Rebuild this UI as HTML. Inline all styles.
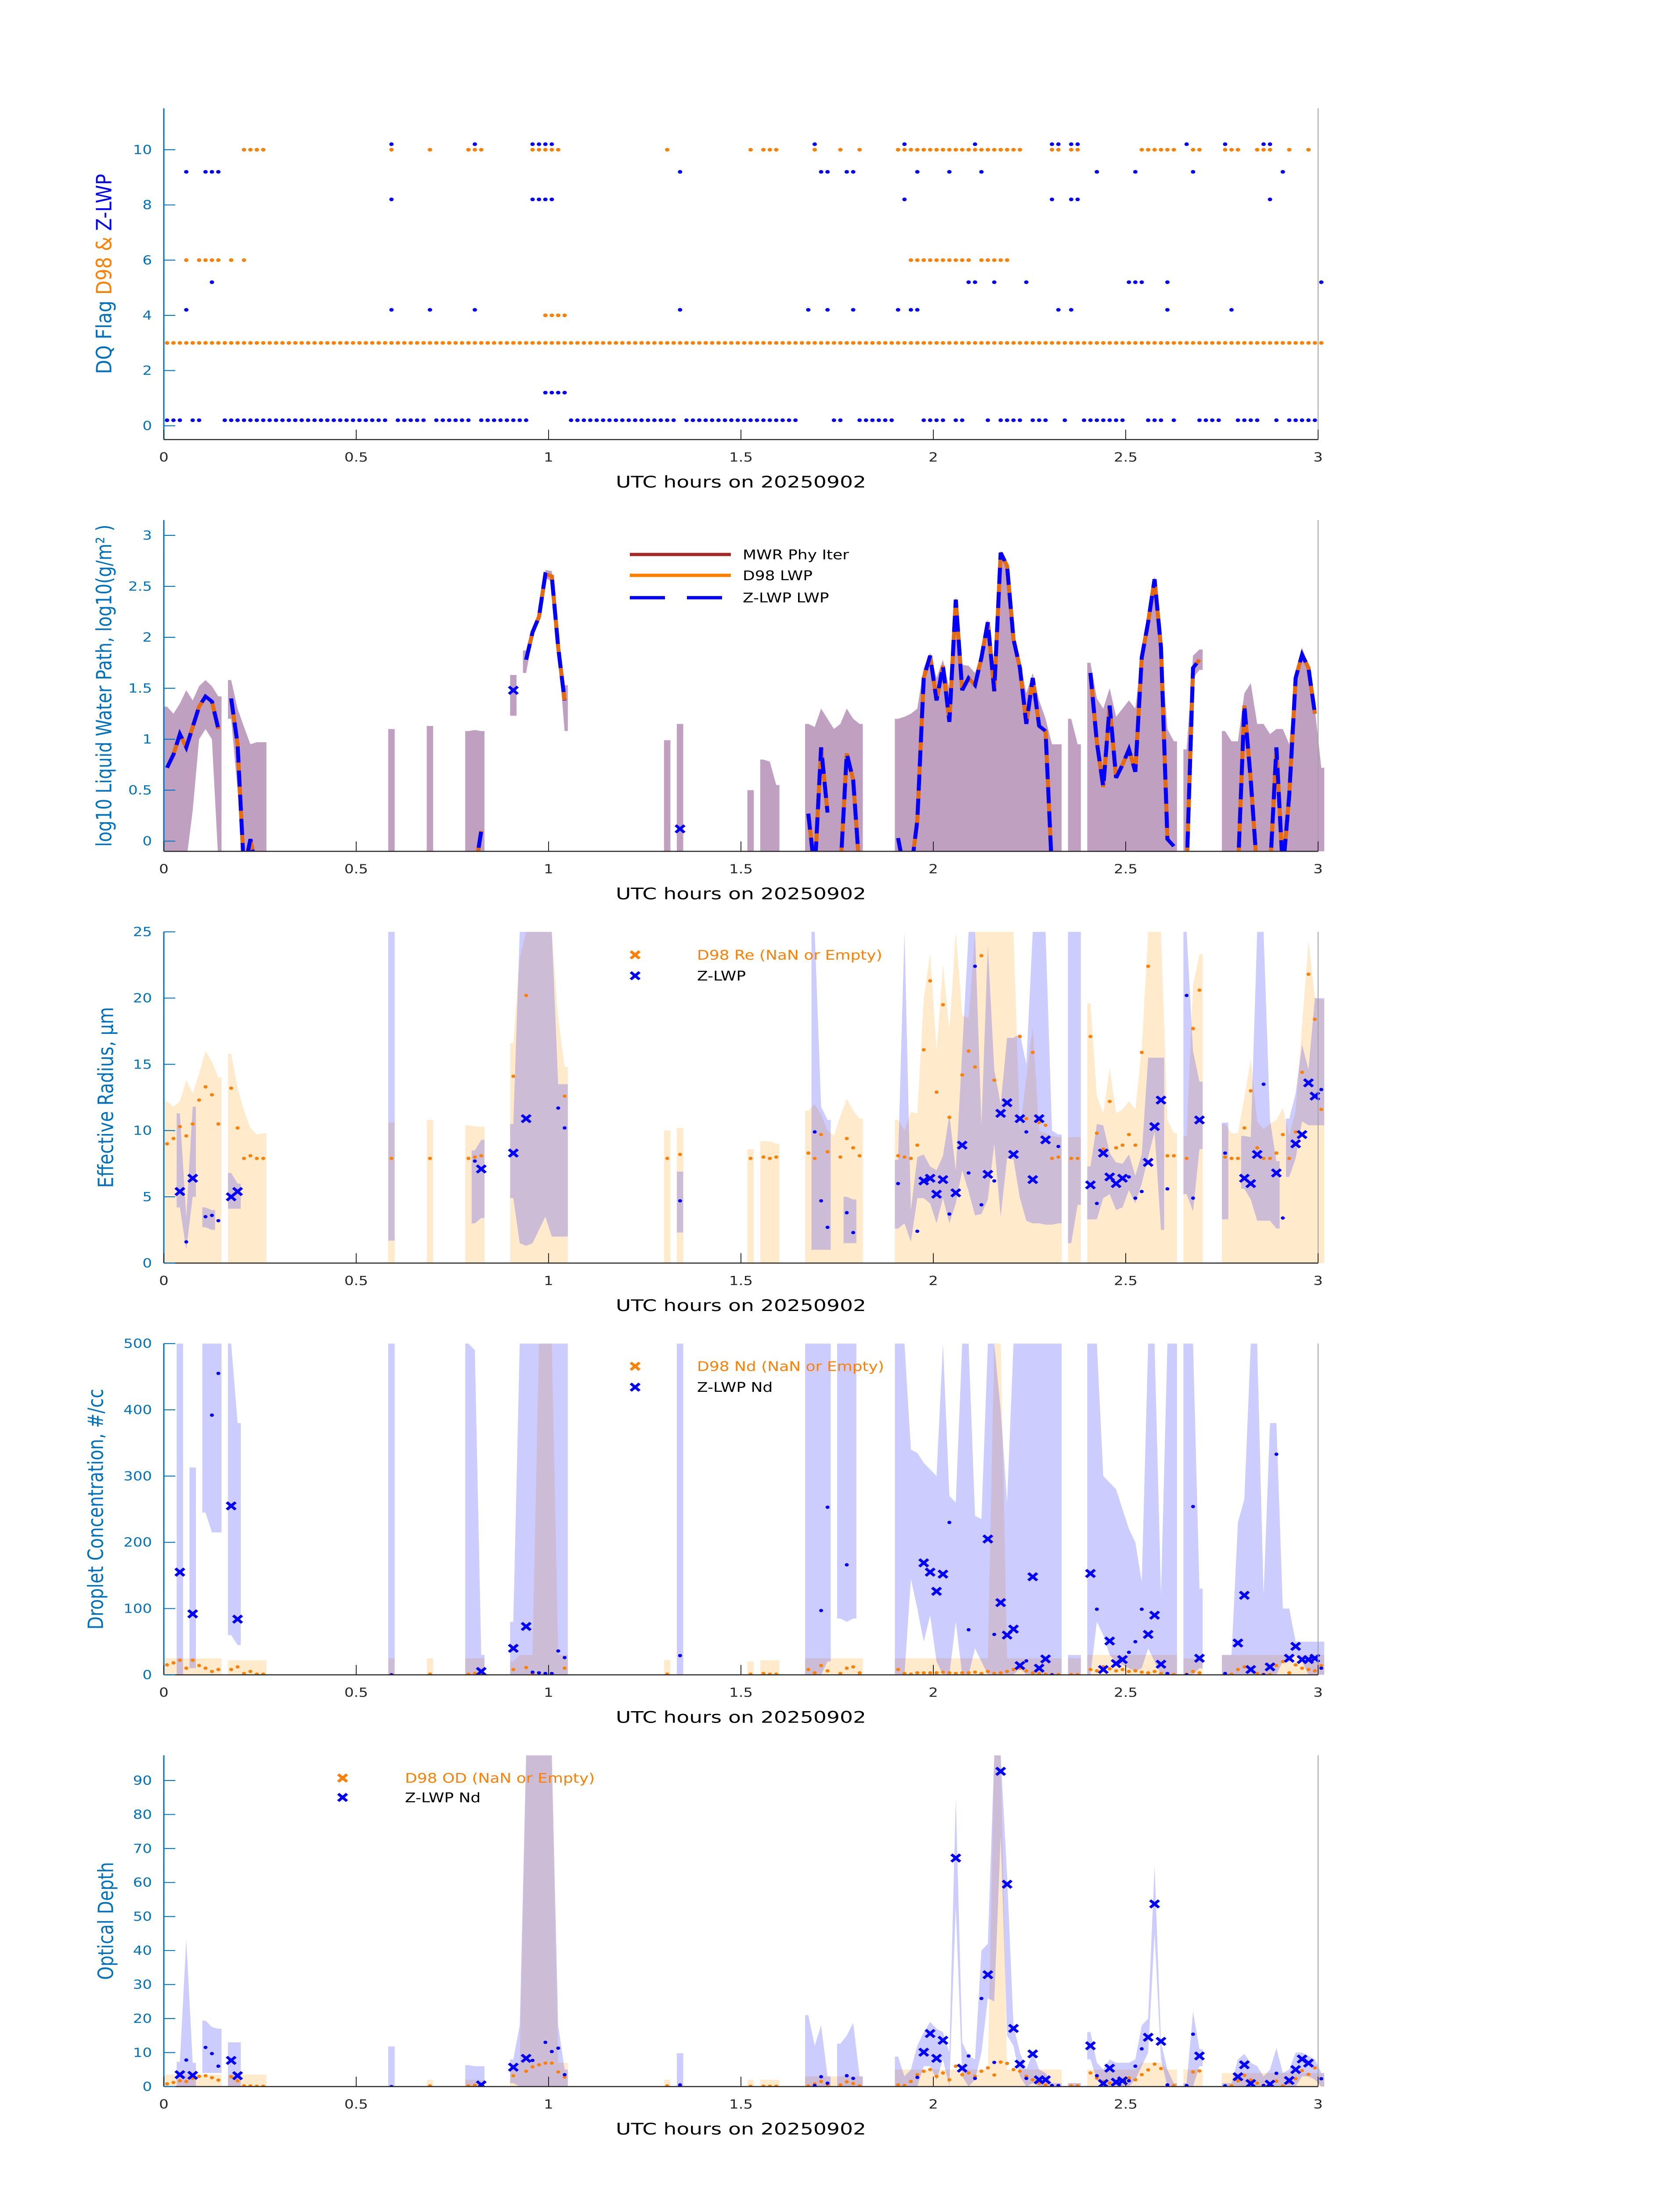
<!DOCTYPE html>
<html><head><meta charset="utf-8"><title>DQ flags and cloud retrievals</title>
<style>
html,body{margin:0;padding:0;background:#fff;width:100%;height:100%;overflow:hidden;}
svg{display:block;position:absolute;left:0;top:0;width:100vw;height:100vh;font-family:"DejaVu Sans","Liberation Sans",sans-serif;}
</style></head>
<body>
<svg id="chart" xmlns="http://www.w3.org/2000/svg" viewBox="0 0 3825 6000" preserveAspectRatio="none">
<rect x="0" y="0" width="3825" height="6000" fill="#fff"/>
</svg>
<script>
// ---------- shared time axis (minute index since 00 UTC) ----------
const N = null;
const timeIdx = [
 0,1,2,3,4,5,6,7,8,9,10,11,12,13,14,15,
 35, 41, 47,48,49,
 54,55,56,57,58,59,60,61,62,
 78, 80, 91, 93,94,95,
 100,101,102,103,104,105,106,107,108,
 114,115,116,117,118,119,120,121,122,123,124,125,126,127,128,129,130,131,132,133,134,135,136,137,138,139,
 141,142,
 144,145,146,147,148,149,150,151,152,153,154,155,156,157,
 159,160,161,
 165,166,167,168,169,170,171,172,173,174,175,176,177,178,179,180];
const xTicks = [0,0.5,1,1.5,2,2.5,3];
const xTickLabels = ['0','0.5','1','1.5','2','2.5','3'];

// ---------- panel 1: DQ flags ----------
const d98Flag3Runs = [[0,180]];
const d98Flag4 = [59,60,61,62];
const d98Flag6 = [3,5,6,7,8,10,12,116,117,118,119,120,121,122,123,124,125,127,128,129,130,131];
const d98Flag10 = [12,13,14,15,35,41,47,48,49,57,58,59,60,61,78,91,93,94,95,101,105,108,114,115,116,117,118,119,120,121,122,123,124,125,126,127,128,129,130,131,132,133,138,139,141,142,152,153,154,155,156,157,160,161,165,166,167,170,171,172,175,178];
const zFlag02Runs = [[0,2],[4,5],[9,34],[36,40],[42,47],[49,56],[63,79],[81,98],[104,105],[108,113],[118,121],[123,124],[128,128],[130,133],[135,137],[140,140],[143,149],[153,155],[157,157],[161,164],[167,170],[173,173],[175,179]];
const zFlag12 = [59,60,61,62];
const zFlag42 = [3,35,41,48,80,100,103,107,114,116,117,139,141,156,166];
const zFlag52 = [7,125,126,129,134,150,151,152,156,180];
const zFlag82 = [35,57,58,59,60,115,138,141,142,172];
const zFlag92 = [3,6,7,8,80,102,103,106,107,117,122,127,145,151,160,174];
const zFlag102 = [35,48,57,58,59,60,101,115,126,138,139,141,142,159,165,171,172];
const p1Ticks = [0,2,4,6,8,10];

// ---------- panel 2: log10 LWP ----------
const lwpLine = [
 0.72,0.85,1.05,0.92,1.12,1.32,1.42,1.37,1.1,N,1.4,0.95,-0.3,0.02,-0.3,N,
 N, N, N,-0.3,0.1,
 N,N,1.78,2.05,2.2,2.62,2.6,1.9,1.38,
 N, N, N, N,N,N,
 0.27,-0.3,0.92,0.28,N,-0.3,0.86,0.6,-0.3,
 0.03,-0.3,-0.3,0.2,1.6,1.82,1.38,1.72,1.17,2.37,1.48,1.6,1.53,1.8,2.15,1.47,2.83,2.7,1.98,1.7,1.15,1.6,1.13,1.08,-0.3,N,
 N,N,
 1.65,0.97,0.53,1.33,0.62,0.75,0.9,0.68,1.8,2.15,2.57,1.9,0.02,-0.05,
 -0.3,1.7,1.78,
 N,N,-0.3,1.33,0.6,-0.3,N,-0.3,0.92,-0.3,0.45,1.6,1.83,1.7,1.25,N];
const lwpHi = [
 1.32,1.25,1.35,1.48,1.38,1.52,1.58,1.52,1.42,N,1.58,1.3,1.12,0.95,0.97,0.97,
 1.1, 1.13, 1.08,1.09,1.08,
 1.63,N,1.87,2.1,2.25,2.66,2.65,1.95,1.53,
 0.99, 1.15, 0.5, 0.8,0.78,0.55,
 1.15,1.12,1.3,1.2,1.1,1.15,1.3,1.2,1.15,
 1.2,1.22,1.25,1.3,1.7,1.85,1.6,1.78,1.5,2.4,1.73,1.72,1.65,1.85,2.18,1.6,2.85,2.72,2.0,1.75,1.45,1.65,1.38,1.2,0.95,0.95,
 1.2,0.95,
 1.75,1.4,1.3,1.5,1.22,1.3,1.38,1.3,1.85,2.2,2.6,1.95,1.1,0.98,
 0.9,1.82,1.88,
 1.08,0.98,0.98,1.45,1.55,1.15,1.15,1.05,1.1,1.1,0.95,1.65,1.9,1.72,1.3,0.72];
const lwpLo = [
 -0.2,-0.2,-0.2,-0.2,0.3,1.0,1.1,1.0,-0.2,N,1.2,0.5,-0.2,-0.2,-0.2,-0.2,
 -0.2, -0.2, -0.2,-0.2,-0.2,
 1.23,N,1.65,2.0,2.15,2.58,2.55,1.85,1.08,
 -0.2, -0.2, -0.2, -0.2,-0.2,-0.2,
 -0.2,-0.2,-0.2,-0.2,-0.2,-0.2,-0.2,-0.2,-0.2,
 -0.2,-0.2,-0.2,-0.2,-0.2,-0.2,-0.2,-0.2,-0.2,-0.2,-0.2,-0.2,-0.2,-0.2,-0.2,-0.2,-0.2,-0.2,-0.2,-0.2,-0.2,-0.2,-0.2,-0.2,-0.2,-0.2,
 -0.2,-0.2,
 -0.2,-0.2,-0.2,-0.2,-0.2,-0.2,-0.2,-0.2,-0.2,-0.2,-0.2,-0.2,-0.2,-0.2,
 -0.2,1.6,1.68,
 -0.2,-0.2,-0.2,-0.2,-0.2,-0.2,-0.2,-0.2,-0.2,-0.2,-0.2,-0.2,-0.2,-0.2,-0.2,-0.2];
const lwpMarkIdx = [54, 80];
const lwpMarkVal = [1.48, 0.12];
const p2Ticks = [0,0.5,1,1.5,2,2.5,3];
const p2TickLabels = ['0','0.5','1','1.5','2','2.5','3'];

// ---------- panel 3: effective radius ----------
const reD98 = [
 9.0,9.4,10.3,9.6,10.5,12.3,13.3,12.7,10.5,N,13.2,10.2,7.9,8.1,7.9,7.9,
 7.9, 7.9, 7.9,8.0,8.1,
 14.1,N,20.2,N,N,N,N,N,12.6,
 7.9, 8.2, 7.9, 8.0,7.9,8.0,
 8.3,7.9,9.7,8.4,N,8.0,9.4,8.7,8.1,
 8.1,8.0,7.9,8.9,16.1,21.3,12.9,19.5,11.0,N,14.2,16.0,14.8,23.2,N,13.8,N,N,N,17.1,10.9,15.9,10.6,10.4,7.9,8.0,
 7.9,7.9,
 17.1,9.8,8.6,12.2,8.7,8.9,9.7,8.9,15.9,22.4,N,N,8.1,8.1,
 7.9,17.7,20.6,
 8.0,7.9,7.9,10.2,13.0,8.7,7.9,7.9,8.3,9.7,7.9,9.9,14.4,21.8,18.4,11.6];
const reD98Hi = [
 12.2,11.8,12.2,13.8,12.8,14.3,16,15.2,14,N,15.8,13.2,11.5,10.2,9.7,9.8,
 10.6, 10.8, 10.4,10.3,10.3,
 16.6,23,25,25,25,25,25,18.5,14.8,
 10.0, 10.2, 8.6, 9.2,9.2,9.0,
 11.5,12,11.2,10,9.6,11.1,12.4,11.5,10.9,
 10.8,10.0,11.4,11.3,19.9,23.4,16,22.5,17.6,25,18.7,18.5,25,25,25,25,25,25,25,10,14,17.8,10,9.8,9.6,9.5,
 9.5,9.5,
 19.6,12.6,11.3,14.7,11.3,11.6,12.2,11.6,16.2,25,25,25,10.8,9.8,
 9.6,21,23.3,
 10.5,9.8,9.8,12.5,15.4,10.7,10.1,10.5,10.8,11.7,9.6,11.5,18,24.3,20,19.9];
const reZLo = [
 N,N,4.2,1.0,5.0,N,2.7,2.5,N,N,4.1,4.1,N,N,N,N,
 1.7, N, N,3.0,3.4,
 4.9,1.5,1.3,1.5,2.5,3.5,2.0,2.0,2.0,
 N, 2.3, N, N,N,N,
 N,1.0,1.0,1.0,N,N,1.5,1.5,N,
 2.6,3,1.6,4.9,4.9,4.5,3.0,4.9,3.0,4.5,7.0,5.4,3.6,3.7,4.8,9.0,3.5,7.9,7.8,4.9,3.2,3,3,2.9,2.9,3.0,
 1.5,4.4,
 3.3,3.3,4.9,5.2,4.0,4.2,5.5,4.5,6.0,8.0,9.9,2.5,N,N,
 5.2,3.9,8.6,
 3.3,N,N,5.6,4.8,3.2,3.2,3.2,2.6,N,6.5,7.9,10.7,10.4,10.4,10.4];
const reZHi = [
 N,N,11.3,3.5,11.8,N,4.2,4.0,N,N,6.8,6.0,N,N,N,N,
 25, N, N,8.5,9.3,
 10.5,25,25,25,25,25,25,13.5,13.5,
 N, 6.9, N, N,N,N,
 N,25,11.8,10.8,N,N,5.0,4.8,N,
 7.8,25,4.0,8.0,8.2,7.3,7.0,8.1,11.2,7.0,16.0,25,25,10.4,24.0,14.6,12.0,17.0,17,17.3,15,25,25,25,10.0,9.7,
 25,25,
 7.3,10.5,10.4,8.3,7.6,7.5,8.2,6.6,8.2,15.5,15.5,15.5,N,N,
 25,16,13.7,
 10.6,N,N,9.6,9.5,25,25,10.8,7.7,N,10.9,12.8,16.5,14.6,20,20];
const reZXIdx = [2,4,10,11,49,54,56,118,119,120,121,123,124,128,130,131,132,133,135,136,137,144,146,147,148,149,153,154,155,161,168,169,170,173,176,177,178,179];
const reZXVal = [5.4,6.4,5.0,5.4,7.1,8.3,10.9,6.2,6.4,5.2,6.3,5.3,8.9,6.7,11.3,12.1,8.2,10.9,6.3,10.9,9.3,5.9,8.3,6.5,6.0,6.4,7.6,10.3,12.3,10.8,6.4,6.0,8.2,6.8,9.0,9.7,13.6,12.6];
const reZDotIdx = [3,6,7,8,48,61,62,80,101,102,103,106,107,114,117,122,125,126,127,129,134,139,145,150,151,152,156,159,160,165,171,174,180];
const reZDotVal = [1.6,3.5,3.6,3.2,7.7,11.7,10.2,4.7,9.9,4.7,2.7,3.8,2.3,6.0,2.4,3.7,6.8,22.4,4.4,6.2,9.9,8.8,4.5,6.5,4.9,5.4,5.6,20.2,4.9,8.3,13.5,3.4,13.1];
const p3Ticks = [0,5,10,15,20,25];

// ---------- panel 4: droplet concentration ----------
const ndD98 = [
 15,18,22,10,22,14,10,5,8,N,8,12,2,5,1,1,
 0.5, 1, 1,2,1,
 8,N,11,2,N,N,N,N,10,
 1, N, 1, 2,1,1,
 8,3,14,6,N,2,10,12,3,
 8,2,1,3,3,3,3,4,3,2,3,3,4,2,5,2,3,5,8,10,6,3,2,1,0.5,0.5,
 0.5,0.5,
 8,6,12,9,6,8,5,6,4,3,5,2,1,0.5,
 1,5,3,
 1,1,8,12,9,2,1,0.5,14,20,3,15,10,8,6,14];
const ndD98Hi = [
 25,25,25,25,25,25,25,25,25,N,22,22,22,22,22,22,
 25, 25, 25,25,25,
 20,30,30,30,500,500,500,30,30,
 22, N, 20, 22,22,22,
 25,25,25,25,25,25,25,25,25,
 25,25,25,25,25,25,25,25,25,25,25,25,25,25,25,500,500,25,25,25,25,25,25,25,25,25,
 25,25,
 30,30,30,30,30,30,30,30,30,30,30,30,30,30,
 25,25,25,
 30,30,30,30,30,30,30,30,30,30,30,30,30,30,30,30];
const ndZLo = [
 N,N,0,N,10,N,245,215,215,N,60,45,N,N,N,N,
 0, N, 0,0,0,
 0,0,0,0,0,0,0,0,0,
 N, 0, N, N,N,N,
 0,0,0,20,N,85,80,85,N,
 0,0,145,100,50,90,20,0,0,80,0,0,40,20,0,0,0,0,0,10,0,0,0,0,0,0,
 0,0,
 0,80,60,30,20,15,10,5,10,40,20,0,0,0,
 0,0,10,
 0,0,0,0,0,0,0,0,0,20,20,30,20,0,0,0];
const ndZHi = [
 N,N,500,N,313,N,500,500,500,N,500,380,N,N,N,N,
 500, N, 500,490,30,
 80,500,500,500,500,500,500,500,500,
 N, 500, N, N,N,N,
 500,500,500,500,N,500,500,500,N,
 500,500,340,335,320,310,300,500,270,260,500,500,240,235,500,500,400,260,500,500,500,500,500,500,500,500,
 30,30,
 500,500,300,290,280,250,220,200,140,500,500,120,500,500,
 500,500,130,
 30,30,230,265,500,500,120,380,380,100,100,50,50,50,50,50];
const ndZXIdx = [2,4,10,11,49,54,56,118,119,120,121,128,130,131,132,133,135,136,137,144,146,147,148,149,153,154,155,161,167,168,169,172,175,176,177,178,179];
const ndZXVal = [155,92,255,84,5,40,73,169,155,126,152,205,109,60,69,14,148,10,24,153,8,51,17,23,61,90,16,25,48,120,8,12,25,43,23,23,25];
const ndZDotIdx = [7,8,35,57,58,59,60,61,62,80,102,103,106,122,125,129,134,138,145,150,151,152,156,159,160,165,171,173,180];
const ndZDotVal = [392,455,0,4,3,2,2,36,26,29,97,253,166,230,68,61,21,0,99,34,50,99,2,0,254,2,0,333,10];
const p4Ticks = [0,100,200,300,400,500];

// ---------- panel 5: optical depth ----------
const odD98 = [
 0.8,1.2,1.7,1.5,2.4,3.0,3.2,2.6,1.9,N,2.9,1.7,0.2,0.2,0.1,0.1,
 N, 0.2, 0.2,0.4,0.2,
 3.2,N,4.5,5.8,6.4,6.9,6.9,4.3,2.8,
 0.2, N, 0.1, 0.1,0.1,0.1,
 0.2,0.8,1.5,0.6,N,0.5,1.4,0.9,0.2,
 0.5,0.3,1.5,3.5,4.5,5.0,3.0,4.0,2.0,6.0,3.5,4.0,3.0,4.5,5.5,3.4,7.2,6.8,5.0,4.5,3.0,2.0,1.0,0.5,0.2,0.2,
 0.2,0.2,
 4.0,2.5,1.5,1.0,1.2,1.8,2.5,2.0,3.5,4.9,6.6,5.3,0.5,0.3,
 0.2,4.3,4.6,
 0.2,0.2,1.7,3.3,2.0,1.0,0.4,0.3,1.6,0.2,1.2,2.3,4.7,3.6,5.5,2.3];
const odD98Hi = [
 3.5,3.5,3.5,3.5,3.5,3.5,3.5,3.5,3.5,N,3.5,3.5,3.5,3.5,3.5,3.5,
 N, 2, 2,2,2,
 5,7,97.4,97.4,97.4,97.4,97.4,7,7,
 2, N, 2, 2,2,2,
 3,3,3,3,3,3,3,3,3,
 5,5,5,5,5,5,5,5,5,5,5,5,5,5,5,97.4,97.4,5,5,5,5,5,5,5,5,5,
 1,1,
 5,5,5,5,5,5,5,5,7,7,7,7,5,5,
 5,5,5,
 4,4,4,4,4,4,4,4,4,4,4,4,4,4,4,4];
const odZLo = [
 N,N,0,0,0,N,4,4,4,N,0,0,N,N,N,N,
 0, N, 0,0,0,
 1,0,0,0,0,0,0,0,0,
 N, 0, N, N,N,N,
 0,0,0,0,N,0,0,0,0,
 0,0,0,0,6,6,2,8,0,53,3,0,2,10,26,25,73.6,15,12,3,0,1,0,0,0,0,
 0,0,
 8,2,0,0,0,0,0,2,6,10,45,8,0,0,
 0,0,6,
 0,0,0,0,0,0,0,0,0,0,0,0,3,3,2,0];
const odZHi = [
 N,N,7.3,43.3,7,N,19.4,17.5,17,N,13,13,N,N,N,N,
 11.8, N, 6.3,6,6,
 8,18,97.4,97.4,97.4,97.4,97.4,18,5,
 N, 9.8, N, N,N,N,
 21,12,18,3,N,12.6,15,18.7,3,
 8.8,3,5,12,16,19,17,16,10,85,13,9,8,40,42,97.4,97.4,62,18,10,5,10,5,4,1,1,
 1,1,
 16,7,5,8,7,7,7,8,18,20,65,13,5,1,
 1,22,11,
 1,1,8,9.6,7,6,3,5,11.3,4,5,10,10,9,8,4];
const odZXIdx = [2,4,10,11,49,54,56,118,119,120,121,123,124,128,130,131,132,133,135,136,137,144,146,147,148,149,153,154,155,161,167,168,169,172,175,176,177,178];
const odZXVal = [3.5,3.3,7.7,3.2,0.5,5.7,8.3,10.1,15.6,8.3,13.6,67.2,5.4,32.9,92.7,59.5,17.1,6.6,9.6,2.0,2.0,12,0.9,5.4,1.3,1.7,14.5,53.7,13.3,9.0,2.9,6.4,0.9,0.7,1.8,5.0,8.1,6.9];
const odZDotIdx = [3,6,7,8,35,57,59,60,61,62,80,101,102,103,106,107,117,125,126,127,129,134,138,139,145,150,151,152,156,159,160,165,171,173,180];
const odZDotVal = [7.8,11.5,9.7,6.0,0,7.7,13,10.3,11.3,3.5,0.5,0.3,2.9,1,3.2,2.4,2.7,9.0,2.4,25.9,7.1,2.4,0.3,0.3,3.2,1.7,6.0,11.1,0.5,0.3,15.4,0.2,0.3,3.9,2.3];
const p5Ticks = [0,10,20,30,40,50,60,70,80,90];

// ================= drawing =================
const NS = 'http://www.w3.org/2000/svg';
const svg = document.getElementById('chart');
const X0 = 373, X1 = 3001;
const STEP = (X1 - X0) / 180;
const BLUE_AX = '#0072BD', ORANGE = '#FF8000', ZBLUE = '#0000FF';

function mk(tag, attrs, parent) {
  const e = document.createElementNS(NS, tag);
  for (const k in attrs) e.setAttribute(k, attrs[k]);
  (parent || svg).appendChild(e);
  return e;
}
function xh(h) { return X0 + h * (X1 - X0) / 3; }
function xi(i) { return xh((i + 0.5) / 60); }
function yv(P, v) { return P.bottom - (v - P.ymin) / (P.ymax - P.ymin) * (P.bottom - P.top); }

const panels = [
  {key:'dq-flag', top:296, bottom:1201, ymin:-0.5, ymax:11.5},
  {key:'lwp', top:1421, bottom:2326, ymin:-0.1, ymax:3.15},
  {key:'effective-radius', top:2546, bottom:3451, ymin:0, ymax:25},
  {key:'droplet-concentration', top:3671, bottom:4576, ymin:0, ymax:500},
  {key:'optical-depth', top:4796, bottom:5701, ymin:0, ymax:97.4}
];

function setupPanel(P, k) {
  const g = mk('g', {});
  
  
  const cp = mk('clipPath', {id: 'clip' + k}, svg);
  mk('rect', {x: X0, y: P.top, width: X1 - X0 + 14, height: P.bottom - P.top}, cp);
  P.g = g;
  P.plot = mk('g', {'clip-path': 'url(#clip' + k + ')'}, g);
  
  
}

function drawAxes(P, ticks, labels) {
  const g = P.g;
  const right = mk('line', {x1: X1, y1: P.top, x2: X1, y2: P.bottom, stroke: '#a0a0a0', 'stroke-width': 2}, g);
  
  
  const bot = mk('line', {x1: X0, y1: P.bottom, x2: X1, y2: P.bottom, stroke: '#262626', 'stroke-width': 3}, g);
  
  
  const left = mk('line', {x1: X0, y1: P.top, x2: X0, y2: P.bottom, stroke: BLUE_AX, 'stroke-width': 3}, g);
  
  
  xTicks.forEach((t, j) => {
    const x = xh(t);
    const tk = mk('line', {x1: x, y1: P.bottom, x2: x, y2: P.bottom - 27, stroke: '#262626', 'stroke-width': 2}, g);
    
    
    const tl = mk('text', {x: x, y: P.bottom + 60, 'text-anchor': 'middle', 'font-size': 34, fill: '#262626'}, g);
    tl.textContent = xTickLabels[j];
    
    
  });
  ticks.forEach((t, j) => {
    const y = yv(P, t);
    const tk = mk('line', {x1: X0, y1: y, x2: X0 + 26, y2: y, stroke: BLUE_AX, 'stroke-width': 2.5}, g);
    
    
    const tl = mk('text', {x: 346, y: y + 12, 'text-anchor': 'end', 'font-size': 34, fill: BLUE_AX}, g);
    tl.textContent = labels ? labels[j] : String(t);
    
    
  });
  const xl = mk('text', {x: 1687, y: P.bottom + 131, 'text-anchor': 'middle', 'font-size': 44, fill: '#000', textLength: 570, lengthAdjust: 'spacingAndGlyphs'}, g);
  xl.textContent = 'UTC hours on 20250902';
  
  
}

function yTitle(P, x, len, parts) {
  const cy = (P.top + P.bottom) / 2;
  const t = mk('text', {x: x, y: cy, 'text-anchor': 'middle', 'font-size': 48, transform: 'rotate(-90 ' + x + ' ' + cy + ')', textLength: len, lengthAdjust: 'spacingAndGlyphs', 'dominant-baseline': 'central'}, P.g);
  
  
  parts.forEach(p => {
    const s = mk('tspan', {fill: p[1]}, t);
    s.textContent = p[0];
  });
}

function drawBand(P, lo, hi, fill, opacity, name) {
  let run = [];
  const flush = () => {
    if (!run.length) return;
    const s = STEP / 2, top = [], bot = [];
    run.forEach((r, k) => {
      const x = xi(r.i);
      if (k === 0) { top.push([x - s, yv(P, r.h)]); bot.push([x - s, yv(P, r.l)]); }
      if (run.length > 1) { top.push([x, yv(P, r.h)]); bot.push([x, yv(P, r.l)]); }
      if (k === run.length - 1) { top.push([x + s, yv(P, r.h)]); bot.push([x + s, yv(P, r.l)]); }
    });
    const pts = top.concat(bot.reverse()).map(p => p[0].toFixed(1) + ',' + p[1].toFixed(1)).join(' ');
    const poly = mk('polygon', {points: pts, fill: fill, 'fill-opacity': opacity}, P.plot);
    
    
    run = [];
  };
  timeIdx.forEach((i, j) => {
    const l = (typeof lo === 'number') ? lo : lo[j];
    const h = hi[j];
    if (l !== null && h !== null && h !== undefined) {
      if (run.length && i !== run[run.length - 1].i + 1) flush();
      run.push({i: i, l: l, h: h});
    } else flush();
  });
  flush();
}

function drawLine(P, vals, attrs, name) {
  let pts = [], last = -99;
  const flush = () => {
    if (pts.length > 1) {
      const a = Object.assign({points: pts.join(' '), fill: 'none'}, attrs);
      const pl = mk('polyline', a, P.plot);
      
      
    }
    pts = [];
  };
  timeIdx.forEach((i, j) => {
    const v = vals[j];
    if (v === null) { flush(); return; }
    if (pts.length && i !== last + 1) flush();
    pts.push(xi(i).toFixed(1) + ',' + yv(P, v).toFixed(1));
    last = i;
  });
  flush();
}

function dot(parent, x, y, color, name, r) {
  const c = mk('circle', {cx: x.toFixed(1), cy: y.toFixed(1), r: r || 5, fill: color}, parent);
  
  
}
function xMark(parent, x, y, color, name) {
  const a = 10;
  const p = mk('path', {d: 'M' + (x - a) + ',' + (y - a) + 'L' + (x + a) + ',' + (y + a) + 'M' + (x - a) + ',' + (y + a) + 'L' + (x + a) + ',' + (y - a), stroke: color, 'stroke-width': 7, fill: 'none'}, parent);
  
  
}
function legendText(parent, x, y, txt, color) {
  const t = mk('text', {x: x, y: y + 13, 'font-size': 36, fill: color}, parent);
  t.textContent = txt;
  
  
}

panels.forEach((P, k) => setupPanel(P, k));

// ----- Panel 1 -----
(function () {
  const P = panels[0];
  const grp = P.g;
  d98Flag3Runs.forEach(r => { for (let i = r[0]; i <= r[1]; i++) dot(grp, xi(i), yv(P, 3), ORANGE, 'd98-flag-point', 5); });
  [[d98Flag4, 4], [d98Flag6, 6], [d98Flag10, 10]].forEach(s => s[0].forEach(i => dot(grp, xi(i), yv(P, s[1]), ORANGE, 'd98-flag-point', 5)));
  zFlag02Runs.forEach(r => { for (let i = r[0]; i <= r[1]; i++) dot(grp, xi(i), yv(P, 0.2), ZBLUE, 'zlwp-flag-point', 5); });
  [[zFlag12, 1.2], [zFlag42, 4.2], [zFlag52, 5.2], [zFlag82, 8.2], [zFlag92, 9.2], [zFlag102, 10.2]].forEach(s => s[0].forEach(i => dot(grp, xi(i), yv(P, s[1]), ZBLUE, 'zlwp-flag-point', 5)));
  drawAxes(P, p1Ticks);
  yTitle(P, 237, 547, [['DQ Flag  ', BLUE_AX], ['D98 &  ', ORANGE], ['Z-LWP', ZBLUE]]);
})();

// ----- Panel 2 -----
(function () {
  const P = panels[1];
  drawBand(P, lwpLo, lwpHi, 'rgb(192,160,192)', 1, 'mwr-lwp-uncertainty-band');
  drawLine(P, lwpLine, {stroke: '#A52A2A', 'stroke-width': 9}, 'mwr-phy-iter-line');
  drawLine(P, lwpLine, {stroke: ORANGE, 'stroke-width': 9, 'stroke-opacity': 0.75}, 'd98-lwp-line');
  drawLine(P, lwpLine, {stroke: ZBLUE, 'stroke-width': 9, 'stroke-dasharray': '44 22'}, 'zlwp-lwp-line');
  lwpMarkIdx.forEach((i, j) => xMark(P.plot, xi(i), yv(P, lwpMarkVal[j]), ZBLUE, 'zlwp-lwp-point'));
  drawAxes(P, p2Ticks, p2TickLabels);
  yTitle(P, 237, 880, [['log10 Liquid Water Path, log10(g/m\u00B2 )', BLUE_AX]]);
  const lg = mk('g', {}, P.g);
  
  
  const l1 = mk('line', {x1: 1434, y1: 1515, x2: 1664, y2: 1515, stroke: '#A52A2A', 'stroke-width': 9}, lg);
  
  
  legendText(lg, 1691, 1515, 'MWR Phy Iter', '#000');
  const l2 = mk('line', {x1: 1434, y1: 1572, x2: 1664, y2: 1572, stroke: ORANGE, 'stroke-width': 9}, lg);
  
  
  legendText(lg, 1691, 1572, 'D98 LWP', '#000');
  const l3 = mk('line', {x1: 1434, y1: 1633, x2: 1664, y2: 1633, stroke: ZBLUE, 'stroke-width': 9, 'stroke-dasharray': '80 50'}, lg);
  
  
  legendText(lg, 1691, 1633, 'Z-LWP LWP', '#000');
})();

function retrievalPanel(P, d98, d98Hi, zLo, zHi, xIdx, xVal, dIdx, dVal, ticks, title, titleX, titleLen, leg) {
  drawBand(P, 0, d98Hi, 'rgb(255,153,0)', 0.2, 'd98-uncertainty-band');
  drawBand(P, zLo, zHi, 'rgb(0,0,255)', 0.2, 'zlwp-uncertainty-band');
  timeIdx.forEach((i, j) => { if (d98[j] !== null) dot(P.plot, xi(i), yv(P, d98[j]), ORANGE, 'd98-point', 4.5); });
  dIdx.forEach((i, j) => dot(P.plot, xi(i), yv(P, dVal[j]), ZBLUE, 'zlwp-point', 4.5));
  xIdx.forEach((i, j) => xMark(P.plot, xi(i), yv(P, xVal[j]), ZBLUE, 'zlwp-marker'));
  drawAxes(P, ticks);
  yTitle(P, titleX, titleLen, [[title, BLUE_AX]]);
  const lg = mk('g', {}, P.g);
  
  
  xMark(lg, leg.mx, leg.y1, ORANGE, 'legend-d98-marker');
  legendText(lg, leg.tx, leg.y1, leg.t1, ORANGE);
  xMark(lg, leg.mx, leg.y2, ZBLUE, 'legend-zlwp-marker');
  legendText(lg, leg.tx, leg.y2, leg.t2, '#000');
}

retrievalPanel(panels[2], reD98, reD98Hi, reZLo, reZHi, reZXIdx, reZXVal, reZDotIdx, reZDotVal, p3Ticks,
  'Effective Radius, \u03BCm', 241, 494, {mx: 1446, tx: 1587, y1: 2609, y2: 2666, t1: 'D98 Re (NaN or Empty)', t2: 'Z-LWP'});
retrievalPanel(panels[3], ndD98, ndD98Hi, ndZLo, ndZHi, ndZXIdx, ndZXVal, ndZDotIdx, ndZDotVal, p4Ticks,
  'Droplet Concentration, #/cc', 218, 658, {mx: 1446, tx: 1587, y1: 3733, y2: 3790, t1: 'D98 Nd (NaN or Empty)', t2: 'Z-LWP Nd'});
retrievalPanel(panels[4], odD98, odD98Hi, odZLo, odZHi, odZXIdx, odZXVal, odZDotIdx, odZDotVal, p5Ticks,
  'Optical Depth', 241, 322, {mx: 780, tx: 922, y1: 4858, y2: 4911, t1: 'D98 OD (NaN or Empty)', t2: 'Z-LWP Nd'});
</script>
</body></html>
